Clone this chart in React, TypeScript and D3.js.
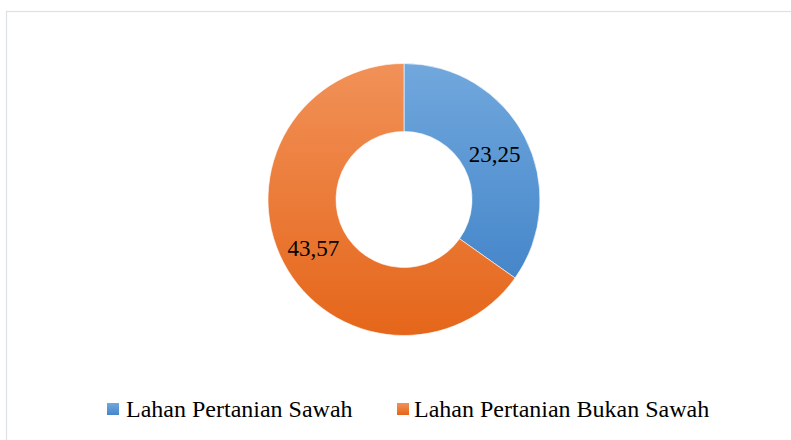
import React from "react";
import * as d3 from "d3";

const categories = ["Lahan Pertanian Sawah", "Lahan Pertanian Bukan Sawah"];
const values = [23.25, 43.57];
const labels = ["23,25", "43,57"];
const colorsTop = ["#71a8dd", "#f19158"];
const colorsBottom = ["#4586ca", "#e5661a"];

export default function App() {
  const W = 791;
  const H = 440;
  const cx = 404;
  const cy = 199.5;
  const outerR = 136;
  const innerR = 68;

  const pie = d3.pie<number>().sort(null).value((d) => d);
  const arcs = pie(values);
  const arcGen = d3.arc<d3.PieArcDatum<number>>().innerRadius(innerR).outerRadius(outerR);

  const fontFamily = "Liberation Serif, Times New Roman, Times, Tinos, serif";

  const legendItems = [
    { markerX: 107, textX: 126 },
    { markerX: 397, textX: 414 },
  ];

  return (
    <div style={{ position: "fixed", left: 0, top: 0 }}>
      <svg width={W} height={H} style={{ display: "block", fontFamily }}>
        <defs>
          {categories.map((c, i) => (
            <linearGradient key={c} id={`g${i}`} x1="0" y1="0" x2="0" y2="1">
              <stop offset="0" stopColor={colorsTop[i]} />
              <stop offset="1" stopColor={colorsBottom[i]} />
            </linearGradient>
          ))}
        </defs>
        <rect x={0} y={0} width={W} height={H} fill="#ffffff" />
        <rect x={6.5} y={11.5} width={W + 20} height={H + 20} fill="none" stroke="#dde2e8" strokeWidth={1.2} />
        <g transform={`translate(${cx},${cy})`}>
          {arcs.map((a, i) => (
            <path key={i} d={arcGen(a) || ""} fill={`url(#g${i})`} stroke="#ffffff" strokeWidth={0.6} />
          ))}
          {arcs.map((a, i) => {
            const [x, y] = arcGen.centroid(a);
            return (
              <text
                key={`l${i}`}
                x={x}
                y={y}
                dy="0.4em"
                textAnchor="middle"
                style={{ fontFamily, fontSize: "23px" }}
                fill="#000000"
              >
                {labels[i]}
              </text>
            );
          })}
        </g>
        {categories.map((c, i) => (
          <g key={`leg${i}`}>
            <rect x={legendItems[i].markerX} y={403} width={12} height={12} fill={`url(#g${i})`} />
            <text x={legendItems[i].textX} y={417} style={{ fontFamily, fontSize: "24px" }} fill="#000000">
              {c}
            </text>
          </g>
        ))}
      </svg>
    </div>
  );
}
